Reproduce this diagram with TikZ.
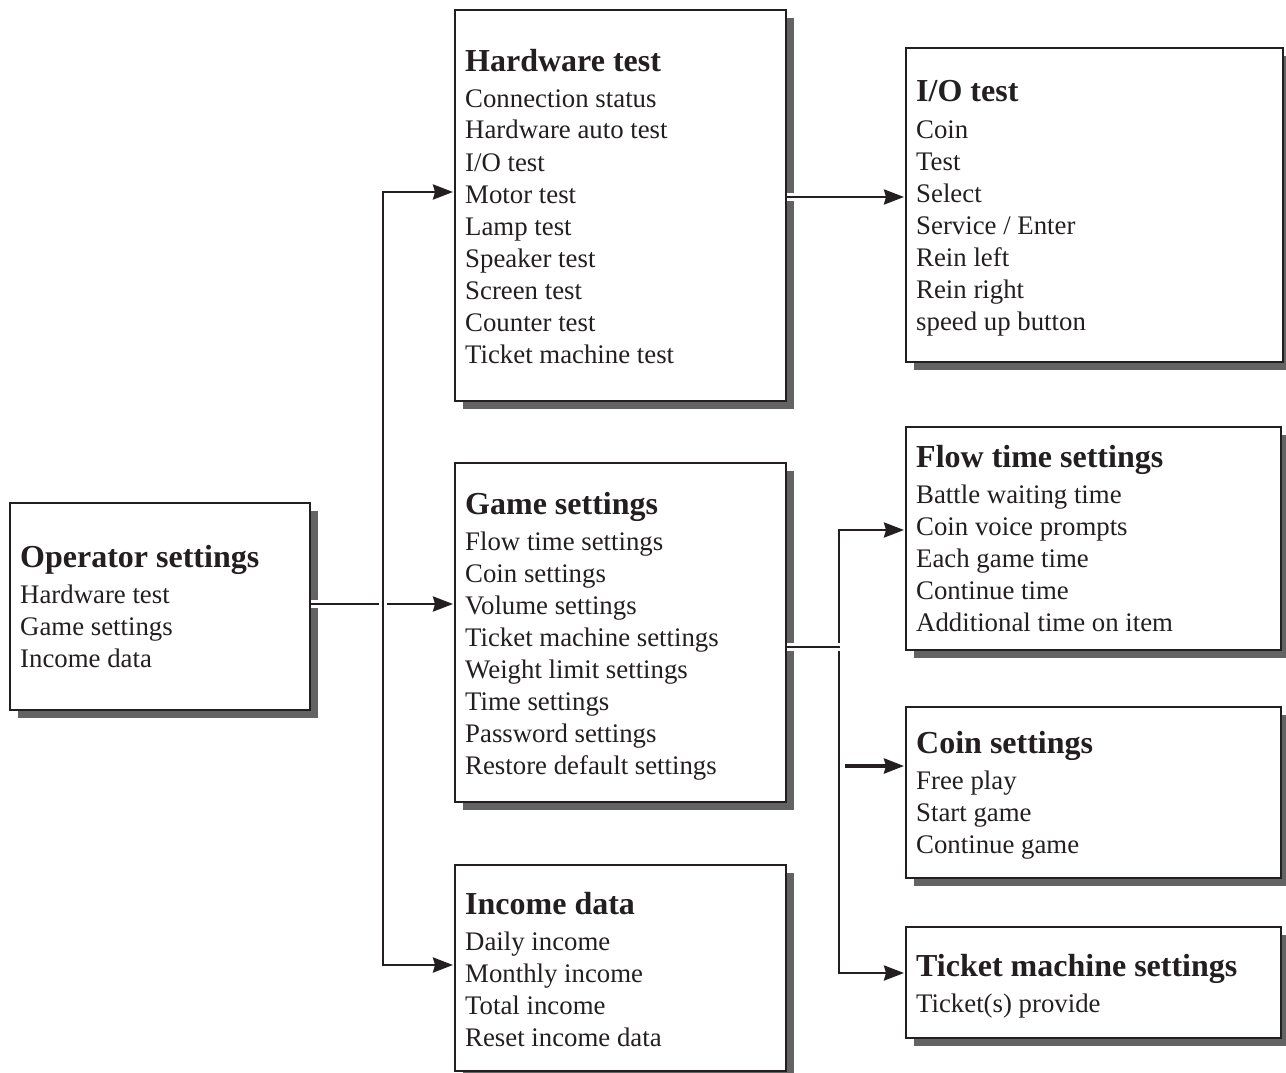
\documentclass[tikz,border=0pt]{standalone}
\usepackage{fontspec}
\setmainfont{Liberation Serif}
\usetikzlibrary{arrows.meta,calc}
\definecolor{ink}{HTML}{231F20}
\definecolor{shadowc}{HTML}{636363}
\pgfdeclarelayer{bgl}
\pgfdeclarelayer{shadowl}
\pgfdeclarelayer{conn}
\pgfsetlayers{bgl,shadowl,conn,main}
\tikzset{
  boxst/.style={draw=ink, line width=2.8pt, fill=white, inner sep=0pt, outer sep=0pt},
  titlest/.style={anchor=base west, inner sep=0pt, text=ink, font=\bfseries\fontsize{32}{36}\selectfont},
  bodyst/.style={anchor=base west, inner sep=0pt, text=ink, font=\fontsize{26.8}{32}\selectfont},
  halo/.style={preaction={draw=white, line width=8pt, -}},
  connst/.style={draw=ink, line width=2.7pt, halo},
  tipst/.style={-{Stealth[length=20pt,width=15pt,inset=2pt]}, shorten >=2pt},
  tipboth/.style={{Stealth[length=20pt,width=15pt,inset=2pt]}-{Stealth[length=20pt,width=15pt,inset=2pt]}, shorten >=2pt, shorten <=2pt},
}
\newcommand\mkbox[8]{%
  \node[boxst, minimum width={#4-#2}, minimum height={#5-#3}, anchor=north west] (#1) at (#2,#3) {};
  \begin{pgfonlayer}{shadowl}
    \fill[shadowc] ([shift={(8,8)}]#1.north west) rectangle ([shift={(8,8)}]#1.south east);
  \end{pgfonlayer}
  \node[titlest] (#1-title) at (#2+10,#6) {#7};
  \foreach \t [count=\i] in {#8} \node[bodyst] (#1-\i) at (#2+10,#6+4+32*\i) {\t};
}
\begin{document}
\begin{tikzpicture}[x=1pt,y=-1pt]
\useasboundingbox (0,0) rectangle (1286,1073);
\clip (0,0) rectangle (1286,1073);
\begin{pgfonlayer}{bgl}
  \fill[white] (0,0) rectangle (1286,1073);
\end{pgfonlayer}

\mkbox{op}{10}{503}{310}{710}{567}{Operator settings}{Hardware test,Game settings,Income data}
\mkbox{hw}{455}{10}{786}{401}{71}{Hardware test}{Connection status,Hardware auto test,I/O test,Motor test,Lamp test,Speaker test,Screen test,Counter test,Ticket machine test}
\mkbox{gs}{455}{463}{786}{802}{514}{Game settings}{Flow time settings,Coin settings,Volume settings,Ticket machine settings,Weight limit settings,Time settings,Password settings,Restore default settings}
\mkbox{inc}{455}{865}{786}{1071}{914}{Income data}{Daily income,Monthly income,Total income,Reset income data}
\mkbox{io}{906}{48}{1283}{362}{102}{I/O test}{Coin,Test,Select,Service / Enter,Rein left,Rein right,speed up button}
\mkbox{flow}{906}{427}{1281}{650}{467}{Flow time settings}{Battle waiting time,Coin voice prompts,Each game time,Continue time,Additional time on item}
\mkbox{coin}{906}{707}{1281}{878}{753}{Coin settings}{Free play,Start game,Continue game}
\mkbox{tick}{906}{927}{1281}{1038}{976}{Ticket machine settings}{Ticket(s) provide}

\coordinate (a0) at (383,604);
\coordinate (t1) at (383,192);
\coordinate (t2) at (383,965);
\coordinate (b0) at (839,647);
\coordinate (s1) at (839,530);
\coordinate (s2) at (839,973);
\coordinate (h0) at (786,197);
\coordinate (c0) at (845,766);

\begin{pgfonlayer}{conn}
  % operator -> game settings (crossed by the trunk)
  \draw[connst, tipst] (a0 -| op.east) -- (a0 -| gs.west);
  % left trunk
  \draw[connst, tipboth] (t1 -| hw.west) -- (t1) -- (t2) -- (t2 -| inc.west);
  % right trunk
  \draw[connst, tipboth] (s1 -| flow.west) -- (s1) -- (s2) -- (s2 -| tick.west);
  \draw[connst] (b0 -| gs.east) -- ([xshift=1pt]b0);
  % hardware -> I/O
  \draw[connst, tipst] (h0 -| hw.east) -- (h0 -| io.west);
  % coin settings arrow
  \draw[connst, tipst, line width=3.4pt] (c0) -- (c0 -| coin.west);
\end{pgfonlayer}
\end{tikzpicture}
\end{document}
